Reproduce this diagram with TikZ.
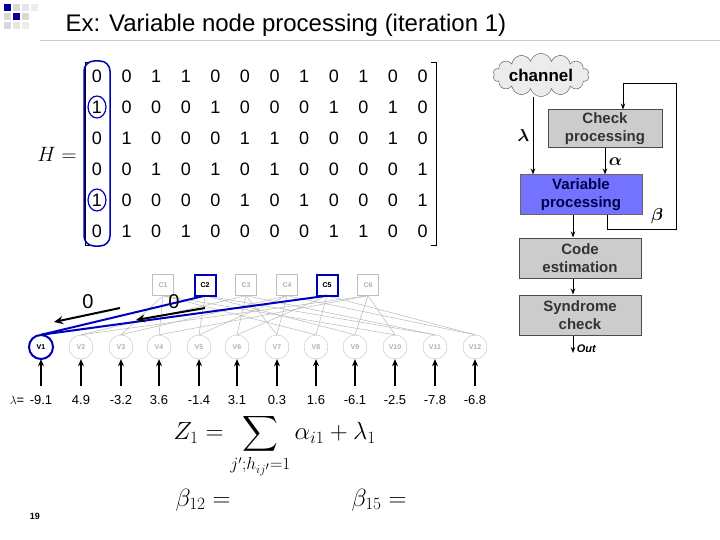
\documentclass[tikz,border=0pt]{standalone}
\usepackage{amsmath}
\usepackage{fontspec}
\setmainfont{Liberation Sans}
\usetikzlibrary{shapes.symbols,arrows.meta}
\begin{document}
\begin{tikzpicture}[x=1pt,y=-1pt,
  cnode/.style={draw=gray!50,minimum size=21pt,inner sep=0pt,font=\fontsize{7}{8}\selectfont\bfseries,text=gray!60},
  vnode/.style={draw=gray!50,circle,minimum size=24pt,inner sep=0pt,font=\fontsize{7}{8}\selectfont\bfseries,text=gray!60},
  edge/.style={draw=gray!55,line width=0.5pt},
  flowbox/.style={draw=black!70,line width=1pt,fill=gray!40,minimum width=122pt,minimum height=40pt,align=center,font=\fontsize{15}{18}\selectfont\bfseries,text=black!80,inner sep=1pt},
  flowarr/.style={-{Stealth[length=6pt]},line width=1pt},
  bigarr/.style={-{Stealth[length=9pt,width=8pt]},line width=2pt}]
\useasboundingbox (0,0) rectangle (720,540);
\fill[white] (0,0) rectangle (720,540);
% logo squares
\foreach \i/\j/\c in {0/0/blue!60!black,1/0/gray!30,0/1/gray!30,1/1/blue!60!black,2/1/gray!30,0/2/gray!30,2/0/gray!20,1/2/gray!20,2/2/gray!15,3/0/gray!15}
  \fill[\c] (4+\i*9,4+\j*9) rectangle +(7,7);
\draw[gray!40] (40,40) -- (720,40);
\node[anchor=west,font=\fontsize{24}{26}\selectfont] (title) at (62,25) {Ex: Variable node processing (iteration 1)};
% matrix
\node[font=\fontsize{20}{22}\selectfont] (Hlab) at (57,154) {$H=$};
\draw[line width=0.8pt] (90,62) -- (85,62) -- (85,245) -- (90,245);
\draw[line width=0.8pt] (431,62) -- (436,62) -- (436,245) -- (431,245);
\foreach \r [count=\ri] in {{0,0,1,1,0,0,0,1,0,1,0,0},{1,0,0,0,1,0,0,0,1,0,1,0},{0,1,0,0,0,1,1,0,0,0,1,0},{0,0,1,0,1,0,1,0,0,0,0,1},{1,0,0,0,0,1,0,1,0,0,0,1},{0,1,0,1,0,0,0,0,1,1,0,0}}{
  \foreach \v [count=\ci] in \r {
    \pgfmathsetmacro{\xx}{97+(\ci-1)*29.6}
    \pgfmathsetmacro{\yy}{76+(\ri-1)*31}
    \node[font=\fontsize{18}{20}\selectfont] (m\ri-\ci) at (\xx,\yy) {\v};
  }
}
\draw[blue!70!black,line width=1.5pt,rounded corners=10pt] (84,61) rectangle (110,246);
\draw[blue!70!black,line width=1.2pt] (m2-1) ellipse (9pt and 11pt);
\draw[blue!70!black,line width=1.2pt] (m5-1) ellipse (9pt and 11pt);
% graph
\foreach \n/\x in {1/163,2/205,3/246,4/287,5/327,6/368}
  \node[cnode] (C\n) at (\x,285) {C\n};
\foreach \n/\x in {1/41,2/81,3/121,4/159,5/199,6/237,7/277,8/316,9/355,10/395,11/435,12/475}
  \node[vnode] (V\n) at (\x,347) {V\n};
\foreach \c/\vs in {1/{3,4,8,10},2/{5,9,11},3/{2,6,7,11},4/{3,5,7,12},5/{6,8,12},6/{2,4,9,10}}
  \foreach \v in \vs \draw[edge] (C\c.south) -- (V\v.north);
\draw[blue!75!black,line width=2pt] (C2.south) -- (V1.north);
\draw[blue!75!black,line width=2pt] (C5.south) -- (V1.north);
\node[cnode,draw=blue!70!black,line width=2pt,text=black] at (C2) {C2};
\node[cnode,draw=blue!70!black,line width=2pt,text=black] at (C5) {C5};
\node[vnode,draw=blue!70!black,line width=2pt,text=black] at (V1) {V1};
\coordinate (a1s) at (120,308); \coordinate (a1e) at (54,322);
\coordinate (a2s) at (205,308); \coordinate (a2e) at (136,320);
\draw[bigarr] (a1s) -- (a1e);
\draw[bigarr] (a2s) -- (a2e);
\node[font=\fontsize{20}{22}\selectfont] (z1) at (88,302) {0};
\node[font=\fontsize{20}{22}\selectfont] (z2) at (174,302) {0};
% lambdas
\node[font=\fontsize{13}{14}\selectfont] (lam) at (17,400) {$\lambda$=};
\foreach \n/\val in {1/-9.1,2/4.9,3/-3.2,4/3.6,5/-1.4,6/3.1,7/0.3,8/1.6,9/-6.1,10/-2.5,11/-7.8,12/-6.8}{
  \node[font=\fontsize{13}{14}\selectfont] (L\n) at ([yshift=-53pt]V\n) {\val};
  \draw[-{Stealth[length=7pt,width=6pt]},line width=1.5pt] ([yshift=-39pt]V\n.center) -- (V\n.south);
}
% formulas
\node[anchor=west,font=\fontsize{23}{25}\selectfont] (Z) at (170,446) {$Z_1=\displaystyle\sum_{j';h_{ij'}=1}\alpha_{i1}+\lambda_1$};
\node[anchor=west,font=\fontsize{23}{25}\selectfont] (b12) at (172,500) {$\beta_{12}=$};
\node[anchor=west,font=\fontsize{23}{25}\selectfont] (b15) at (348,500) {$\beta_{15}=$};
\node[font=\fontsize{9}{10}\selectfont\bfseries] (pg) at (35,516) {19};
% flowchart
\node[cloud,draw=black!70,fill=gray!15,cloud puffs=14,aspect=3.2,minimum width=96pt,minimum height=34pt,inner sep=0pt,font=\fontsize{17}{18}\selectfont\bfseries] (ch) at (541,75) {channel};
\node[flowbox,minimum width=114pt,minimum height=38pt] (chk) at (605,129) {Check\\processing};
\node[flowbox,fill=blue!55!white,draw=black!60,text=blue!30!black] (var) at (581,195) {Variable\\processing};
\node[flowbox] (code) at (580,258) {Code\\estimation};
\node[flowbox] (syn) at (580,315) {Syndrome\\check};
\draw[flowarr] (ch.south -| 533,0) -- (var.north -| 533,0) node[midway,left,font=\fontsize{17}{18}\selectfont] {$\boldsymbol\lambda$};
\draw[flowarr] (chk.south -| 605,0) -- (var.north -| 605,0) node[midway,right,font=\fontsize{17}{18}\selectfont] {$\boldsymbol\alpha$};
\draw[flowarr] (var.south -| 607,0) -- (607,230) -- (676,230) -- (676,84) -- (623,84) -- (chk.north -| 623,0);
\node[font=\fontsize{17}{18}\selectfont] (beta) at (657,216) {$\boldsymbol\beta$};
\draw[flowarr] (var.south -| 573,0) -- (code.north -| 573,0);
\draw[flowarr] (code.south -| 573,0) -- (syn.north -| 573,0);
\coordinate (out) at (573,353);
\draw[flowarr] (syn.south -| 573,0) -- (out) node[right,font=\fontsize{11}{12}\selectfont\bfseries\itshape,yshift=4pt] {Out};
\end{tikzpicture}
\end{document}
